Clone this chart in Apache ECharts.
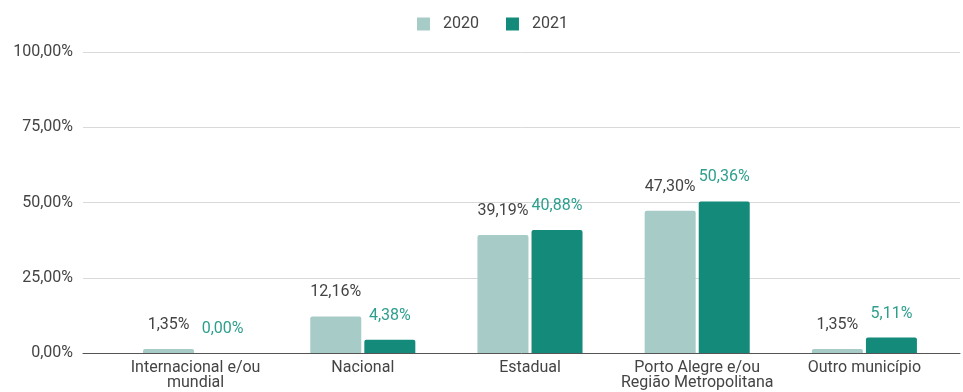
<!DOCTYPE html>
<html>
<head>
<meta charset="utf-8">
<script src="https://cdn.jsdelivr.net/npm/echarts@6/dist/echarts.min.js"></script>
<style>
  html, body { margin: 0; padding: 0; background: #fff; }
  #chart { width: 963px; height: 392px; }
</style>
</head>
<body>
<div id="chart"></div>
<script>
// Origem do público por ano (%)
const categories = [
  'Internacional e/ou\nmundial',
  'Nacional',
  'Estadual',
  'Porto Alegre e/ou\nRegião Metropolitana',
  'Outro município'
];
const values2020 = [1.35, 12.16, 39.19, 47.30, 1.35];
const values2021 = [0.00, 4.38, 40.88, 50.36, 5.11];
const yTicks = [0, 25, 50, 75, 100];

const FONT = 'Roboto, "Liberation Sans", sans-serif';
const FS = 16;
const pct = v => v.toFixed(2).replace('.', ',') + '%';

const chart = echarts.init(document.getElementById('chart'), null, { renderer: 'canvas' });

chart.setOption({
  animation: false,
  backgroundColor: '#ffffff',
  textStyle: { fontFamily: FONT },
  legend: {
    top: 11,
    left: 412,
    itemWidth: 13,
    itemHeight: 13,
    itemGap: 27,
    icon: 'rect',
    textStyle: { fontFamily: FONT, fontSize: FS, color: '#444', padding: [0, 0, 0, 8] },
    data: ['2020', '2021']
  },
  grid: [
    // wide grid: gridlines, y labels and baseline
    { left: 83, right: 3, top: 52, bottom: 39 },
    // category band holding the bars
    { left: 112, right: 15, top: 52, bottom: 39 }
  ],
  xAxis: [
    {
      gridIndex: 0, type: 'value', min: 0, max: 1,
      axisLine: { show: true, lineStyle: { color: '#555', width: 1 } },
      axisTick: { show: false }, axisLabel: { show: false }, splitLine: { show: false }
    },
    {
      gridIndex: 1, type: 'category', data: categories,
      axisLine: { show: false }, axisTick: { show: false },
      axisLabel: {
        interval: 0, margin: 7, color: '#444', fontSize: FS, fontFamily: FONT, lineHeight: 15
      }
    }
  ],
  yAxis: [
    {
      gridIndex: 0, type: 'value', min: yTicks[0], max: yTicks[yTicks.length - 1], interval: 25,
      axisLine: { show: false }, axisTick: { show: false },
      axisLabel: { margin: 10, color: '#444', fontSize: FS, fontFamily: FONT, formatter: v => pct(v) },
      splitLine: { lineStyle: { color: '#d9d9d9', width: 1 } }
    },
    {
      gridIndex: 1, type: 'value', min: 0, max: 100, show: false,
      splitLine: { show: false }
    }
  ],
  series: [
    {
      name: '2020', type: 'bar', xAxisIndex: 1, yAxisIndex: 1,
      data: values2020, barWidth: 51, barGap: '6%',
      itemStyle: { color: '#a7cbc6', borderRadius: [2, 2, 0, 0] },
      label: {
        show: true, position: 'top', distance: 16, color: '#444', fontSize: FS, fontFamily: FONT,
        formatter: p => pct(p.value)
      }
    },
    {
      name: '2021', type: 'bar', xAxisIndex: 1, yAxisIndex: 1,
      data: values2021, barWidth: 51,
      itemStyle: { color: '#148a7b', borderRadius: [2, 2, 0, 0] },
      label: {
        show: true, position: 'top', distance: 16, color: '#2e9e8d', fontSize: FS, fontFamily: FONT,
        formatter: p => pct(p.value)
      }
    }
  ]
});
</script>
</body>
</html>
